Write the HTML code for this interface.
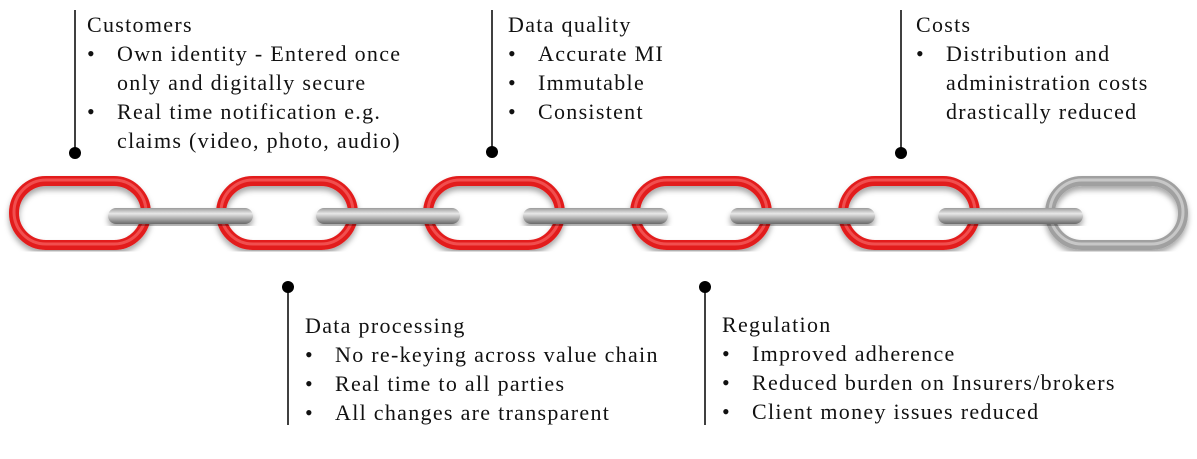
<!DOCTYPE html>
<html><head><style>
body{margin:0;background:#fff;width:1197px;height:459px;position:relative;overflow:hidden;font-family:"Liberation Serif",serif;color:#111}
.t{position:absolute;font-size:22px;letter-spacing:1.3px;line-height:29px;white-space:nowrap}
.t ul{margin:0;padding:0;list-style:none}
.t li{position:relative;padding-left:30px}
.t li:before{content:"•";position:absolute;left:0}
</style></head><body>
<svg width="1197" height="459" style="position:absolute;left:0;top:0">
<defs>
<linearGradient id="bar" x1="0" y1="0" x2="0" y2="1">
<stop offset="0" stop-color="#9a9a9a"/><stop offset="0.35" stop-color="#e8e8e8"/><stop offset="0.6" stop-color="#b8b8b8"/><stop offset="1" stop-color="#6a6a6a"/></linearGradient>
<filter id="sh"><feDropShadow dx="0" dy="4" stdDeviation="3" flood-opacity="0.35"/></filter>
</defs>
<g stroke="#000" stroke-width="1.5">
<line x1="75" y1="10" x2="75" y2="150"/><line x1="492" y1="10" x2="492" y2="150"/><line x1="901" y1="10" x2="901" y2="150"/>
<line x1="288" y1="288" x2="288" y2="425"/><line x1="705" y1="288" x2="705" y2="425"/>
</g>
<g fill="#000"><circle cx="75" cy="153" r="6"/><circle cx="492" cy="152" r="6"/><circle cx="901" cy="153" r="6"/><circle cx="288" cy="287" r="6"/><circle cx="705" cy="287" r="6"/></g>
<g fill="none" stroke-width="10" filter="url(#sh)">
<rect x="14" y="181" width="132" height="64" rx="32" stroke="#e21b1b"/>
<rect x="221" y="181" width="132" height="64" rx="32" stroke="#e21b1b"/>
<rect x="428" y="181" width="132" height="64" rx="32" stroke="#e21b1b"/>
<rect x="635" y="181" width="132" height="64" rx="32" stroke="#e21b1b"/>
<rect x="843" y="181" width="132" height="64" rx="32" stroke="#e21b1b"/>
<rect x="1050" y="181" width="133" height="64" rx="32" stroke="#a0a0a0"/>
</g>
<g fill="none" stroke-width="3" opacity="0.5">
<rect x="14" y="180" width="132" height="64" rx="32" stroke="#ff8080"/>
<rect x="221" y="180" width="132" height="64" rx="32" stroke="#ff8080"/>
<rect x="428" y="180" width="132" height="64" rx="32" stroke="#ff8080"/>
<rect x="635" y="180" width="132" height="64" rx="32" stroke="#ff8080"/>
<rect x="843" y="180" width="132" height="64" rx="32" stroke="#ff8080"/>
<rect x="1050" y="180" width="133" height="64" rx="32" stroke="#eee"/>
</g>
<g fill="url(#bar)" filter="url(#sh)">
<rect x="108" y="208" width="145" height="16" rx="8"/>
<rect x="316" y="208" width="144" height="16" rx="8"/>
<rect x="523" y="208" width="145" height="16" rx="8"/>
<rect x="730" y="208" width="145" height="16" rx="8"/>
<rect x="938" y="208" width="145" height="16" rx="8"/>
</g>
</svg>
<div class="t" style="left:87px;top:10px">Customers<ul><li>Own identity - Entered once<br>only and digitally secure</li><li>Real time notification e.g.<br>claims (video, photo, audio)</li></ul></div>
<div class="t" style="left:508px;top:10px">Data quality<ul><li>Accurate MI</li><li>Immutable</li><li>Consistent</li></ul></div>
<div class="t" style="left:916px;top:10px">Costs<ul><li>Distribution and<br>administration costs<br>drastically reduced</li></ul></div>
<div class="t" style="left:305px;top:311px">Data processing<ul><li>No re-keying across value chain</li><li>Real time to all parties</li><li>All changes are transparent</li></ul></div>
<div class="t" style="left:722px;top:310px">Regulation<ul><li>Improved adherence</li><li>Reduced burden on Insurers/brokers</li><li>Client money issues reduced</li></ul></div>
</body></html>
